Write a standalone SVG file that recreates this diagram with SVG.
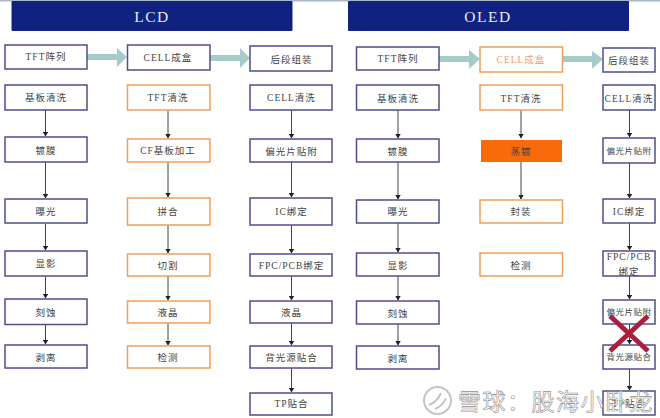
<svg xmlns="http://www.w3.org/2000/svg" width="660" height="418" viewBox="0 0 660 418">
<style>
.n{fill:#fff;stroke:#4d4f8c;stroke-width:1.5}
.o{fill:#fff;stroke:#ee9f5c;stroke-width:1.5}
text{font-family:"Noto Sans CJK SC","Liberation Serif",serif;font-size:9.5px;fill:#444;text-anchor:middle;letter-spacing:1px}
.lat{font-family:"Liberation Serif","Noto Sans CJK SC",serif}
.h{font-family:"Liberation Serif",serif;font-size:15.500px;fill:#e8ecf6;letter-spacing:1.500px}
.c{stroke:#444;stroke-width:1;fill:none;marker-end:url(#a)}
.b{stroke:#a5cccb;stroke-width:6;fill:none}
.bh{fill:#a5cccb}
.w{font-family:"Noto Sans CJK SC",sans-serif;font-size:23px;fill:#fff;fill-opacity:.85;stroke:#8f8f8f;stroke-width:.6;letter-spacing:1.500px;text-anchor:start}
</style>
<defs><marker id="a" markerWidth="5" markerHeight="6" refX="4.500" refY="3" orient="auto" markerUnits="userSpaceOnUse"><path d="M0 0L5 3L0 6Z" fill="#222"/></marker></defs>
<rect width="660" height="418" fill="#fff"/>
<rect width="660" height="1.500" fill="#a9b8c8"/>
<g id="lcd-header"><rect x="11.500" y="1" width="281" height="30" rx="1" fill="#10217f"/><text class="h" x="152" y="22">LCD</text></g>
<g id="oled-header"><rect x="348" y="1" width="281" height="30" rx="1" fill="#10217f"/><text class="h" x="488" y="22">OLED</text></g>
<g id="connectors">
<path class="b" d="M87 57H118"/><path class="bh" d="M117 48L127 57L117 67Z"/>
<path class="b" d="M210 58H241"/><path class="bh" d="M240 48L250 58L240 68Z"/>
<path class="b" d="M439 59H471"/><path class="bh" d="M469 50L480 59L469 69Z"/>
<path class="b" d="M562 59H593"/><path class="bh" d="M592 51L603 59L592 69Z"/>
<path class="c" d="M45.500 110V136"/><path class="c" d="M45.500 162V198"/><path class="c" d="M45.500 224V250"/><path class="c" d="M45.500 276V298"/><path class="c" d="M45.500 324V344"/>
<path class="c" d="M168 110V138"/><path class="c" d="M168 162V197"/><path class="c" d="M168 225V253"/><path class="c" d="M168 276V300"/><path class="c" d="M168 323V345"/>
<path class="c" d="M291.500 110V138"/><path class="c" d="M291.500 162V197"/><path class="c" d="M291.500 225V253"/><path class="c" d="M291.500 276V300"/><path class="c" d="M291.500 323V345"/><path class="c" d="M291.500 368V392"/>
<path class="c" d="M398 110V138"/><path class="c" d="M398 162V199"/><path class="c" d="M398 223V252"/><path class="c" d="M398 276V300"/><path class="c" d="M398 324V345"/>
<path class="c" d="M521 110V138"/><path class="c" d="M521 161V199"/>
<path class="c" d="M629.500 110V137"/><path class="c" d="M629.500 163V198"/><path class="c" d="M629.500 223V250"/><path class="c" d="M629.500 276V299"/><path class="c" d="M629.500 324V344"/><path class="c" d="M629.500 369V390"/>
</g>
<g id="lcd-a1"><rect class="n" x="5" y="45" width="82" height="24"/><text x="46" y="60"><tspan class="lat">TFT</tspan>阵列</text></g>
<g id="lcd-a2"><rect class="n" x="5" y="85" width="82" height="25"/><text x="46" y="101">基板清洗</text></g>
<g id="lcd-a3"><rect class="n" x="5" y="137" width="82" height="25"/><text x="46" y="154">镀膜</text></g>
<g id="lcd-a4"><rect class="n" x="5" y="199" width="82" height="24"/><text x="46" y="215">曝光</text></g>
<g id="lcd-a5"><rect class="n" x="5" y="251" width="82" height="25"/><text x="46" y="267">显影</text></g>
<g id="lcd-a6"><rect class="n" x="5" y="299" width="82" height="25.500"/><text x="46" y="316">刻蚀</text></g>
<g id="lcd-a7"><rect class="n" x="5" y="345" width="82" height="23"/><text x="46" y="361">剥离</text></g>
<g id="lcd-b1"><rect class="n" x="127.500" y="45" width="82.500" height="25"/><text x="168" y="61"><tspan class="lat">CELL</tspan>成盒</text></g>
<g id="lcd-b2"><rect class="o" x="127.500" y="85" width="82.500" height="25"/><text x="168" y="101"><tspan class="lat">TFT</tspan>清洗</text></g>
<g id="lcd-b3"><rect class="o" x="127.500" y="139" width="82.500" height="23"/><text x="168" y="154"><tspan class="lat">CF</tspan>基板加工</text></g>
<g id="lcd-b4"><rect class="o" x="127.500" y="198" width="82.500" height="27"/><text x="168" y="215">拼合</text></g>
<g id="lcd-b5"><rect class="o" x="127.500" y="254" width="82.500" height="22"/><text x="168" y="269">切割</text></g>
<g id="lcd-b6"><rect class="o" x="127.500" y="301" width="82.500" height="22"/><text x="168" y="316">液晶</text></g>
<g id="lcd-b7"><rect class="o" x="127.500" y="346" width="82.500" height="22"/><text x="168" y="361">检测</text></g>
<g id="lcd-c1"><rect class="n" x="250" y="46" width="82" height="25"/><text x="291.500" y="63">后段组装</text></g>
<g id="lcd-c2"><rect class="n" x="250" y="85" width="82" height="25"/><text x="291.500" y="101"><tspan class="lat">CELL</tspan>清洗</text></g>
<g id="lcd-c3"><rect class="n" x="250" y="139" width="82" height="23"/><text x="291.500" y="155">偏光片贴附</text></g>
<g id="lcd-c4"><rect class="n" x="250" y="198" width="82" height="27"/><text x="291.500" y="215"><tspan class="lat">IC</tspan>绑定</text></g>
<g id="lcd-c5"><rect class="n" x="250" y="254" width="82" height="22"/><text x="291.500" y="269"><tspan class="lat">FPC/PCB</tspan>绑定</text></g>
<g id="lcd-c6"><rect class="n" x="250" y="301" width="82" height="22"/><text x="291.500" y="316">液晶</text></g>
<g id="lcd-c7"><rect class="n" x="250" y="346" width="82" height="22"/><text x="291.500" y="361">背光源贴合</text></g>
<g id="lcd-c8"><rect class="n" x="250" y="393" width="82" height="22"/><text x="291.500" y="407"><tspan class="lat">TP</tspan>贴合</text></g>
<g id="oled-a1"><rect class="n" x="356.500" y="47" width="82.500" height="23"/><text x="398" y="62"><tspan class="lat">TFT</tspan>阵列</text></g>
<g id="oled-a2"><rect class="n" x="356.500" y="85" width="82.500" height="25"/><text x="398" y="102">基板清洗</text></g>
<g id="oled-a3"><rect class="n" x="356.500" y="139" width="82.500" height="23"/><text x="398" y="155">镀膜</text></g>
<g id="oled-a4"><rect class="n" x="356.500" y="200" width="82.500" height="23"/><text x="398" y="215">曝光</text></g>
<g id="oled-a5"><rect class="n" x="356.500" y="253" width="82.500" height="23"/><text x="398" y="269">显影</text></g>
<g id="oled-a6"><rect class="n" x="356.500" y="301" width="82.500" height="23"/><text x="398" y="317">刻蚀</text></g>
<g id="oled-a7"><rect class="n" x="356.500" y="346" width="82.500" height="23"/><text x="398" y="362">剥离</text></g>
<g id="oled-b1"><rect class="o" x="480" y="47" width="82.500" height="25"/><text x="521" y="63" style="fill:#f0a06a"><tspan class="lat" style="fill:#f0a06a">CELL</tspan>成盒</text></g>
<g id="oled-b2"><rect class="o" x="480" y="85" width="82.500" height="25"/><text x="521" y="102"><tspan class="lat">TFT</tspan>清洗</text></g>
<g id="oled-b3"><rect x="481" y="140" width="81" height="22" fill="#f76b0d"/><text x="521" y="155">蒸镀</text></g>
<g id="oled-b4"><rect class="o" x="480" y="200" width="82.500" height="23"/><text x="521" y="215">封装</text></g>
<g id="oled-b5"><rect class="o" x="480" y="253" width="82.500" height="23"/><text x="521" y="269">检测</text></g>
<g id="oled-c1"><rect class="n" x="603" y="48" width="52" height="24"/><text x="629" y="64">后段组装</text></g>
<g id="oled-c2"><rect class="n" x="603" y="85" width="52" height="25"/><text x="629" y="102"><tspan class="lat">CELL</tspan>清洗</text></g>
<g id="oled-c3"><rect class="n" x="603" y="138" width="52" height="25"/><text x="629" y="154" style="font-size:8.500px;letter-spacing:.5px">偏光片贴附</text></g>
<g id="oled-c4"><rect class="n" x="603" y="199" width="52" height="24"/><text x="629" y="215"><tspan class="lat">IC</tspan>绑定</text></g>
<g id="oled-c5"><rect class="n" x="603" y="251" width="52" height="25"/><text x="629" y="260"><tspan class="lat">FPC/PCB</tspan></text><text x="629" y="275">绑定</text></g>
<g id="oled-c6"><rect class="n" x="603" y="300" width="52" height="24"/><text x="629" y="315" style="font-size:8.500px;letter-spacing:.5px">偏光片贴附</text></g>
<g id="oled-c7"><rect class="n" x="603" y="345" width="52" height="24"/><text x="629" y="360" style="font-size:8.500px;letter-spacing:.5px">背光源贴合</text></g>
<g id="oled-c8"><rect class="n" x="603" y="391" width="52" height="24"/><text x="629" y="407"><tspan class="lat">TP</tspan>贴合</text></g>
<path d="M610 316L648 351M648 316L610 351" stroke="#a91f3f" stroke-width="5" fill="none"/>
<g id="watermark"><circle cx="437.500" cy="400.500" r="13.500" fill="none" stroke="#c4c4c4" stroke-width="2"/><path d="M429 405Q437 402 441 393M435 409Q443 406 446 398" fill="none" stroke="#c4c4c4" stroke-width="2"/><text class="w" x="458" y="410">雪球：股海小卧龙</text></g>
</svg>
